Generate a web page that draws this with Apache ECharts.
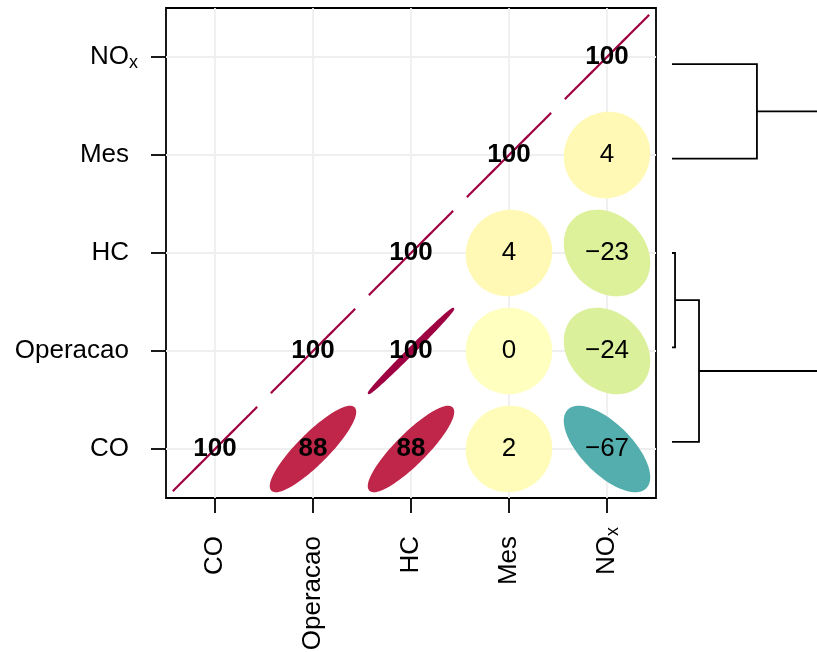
<!DOCTYPE html>
<html><head><meta charset="utf-8">
<script src="https://cdn.jsdelivr.net/npm/echarts@6/dist/echarts.min.js"></script>
<style>html,body{margin:0;padding:0;background:#fff}#c{width:817px;height:652px}</style>
</head><body><div id="c"></div>
<script>
// ---- data ----
const variables = ['CO', 'Operacao', 'HC', 'Mes', 'NOx'];
// correlation of each row variable with the variables from itself to the right
const corrCO       = [1.00, 0.88, 0.88, 0.02, -0.67];
const corrOperacao = [1.00, 0.996, 0.00, -0.24];
const corrHC       = [1.00, 0.04, -0.23];
const corrMes      = [1.00, 0.04];
const corrNOx      = [1.00];
const corrRows = [corrCO, corrOperacao, corrHC, corrMes, corrNOx];
// dendrogram (hclust-like merges: '#k' refers to merge k, 1-based)
const dendroMergeA  = ['HC', '#1', 'NOx', '#3'];
const dendroMergeB  = ['Operacao', 'CO', 'Mes', '#2'];
const dendroHeights = [0.05, 0.445, 1.4, 2.8];

// ---- helpers ----
const FONT = 'Liberation Sans, Arial, Helvetica, sans-serif';
const spectral = ['#5E4FA2','#3288BD','#66C2A5','#ABDDA4','#E6F598','#FFFFBF','#FEE08B','#FDAE61','#F46D43','#D53E4F','#9E0142'];
function hex2rgb(h){return [parseInt(h.slice(1,3),16),parseInt(h.slice(3,5),16),parseInt(h.slice(5,7),16)];}
function corrColor(r){
  const p = (r + 1) / 2 * (spectral.length - 1);
  const i = Math.min(Math.floor(p), spectral.length - 2);
  const f = p - i;
  const a = hex2rgb(spectral[i]), b = hex2rgb(spectral[i+1]);
  const c = a.map((v,k)=>Math.round(v + (b[k]-v)*f));
  return 'rgb(' + c.join(',') + ')';
}
const cells = [];
corrRows.forEach((row, i) => row.forEach((r, k) => cells.push([i + k, i, r])));

// dendrogram node positions: [height, y]
const nodeY = {}, nodeH = {};
variables.forEach((v, i) => { nodeY[v] = i; nodeH[v] = 0; });
const dendroLinks = [];
dendroHeights.forEach((h, m) => {
  const a = dendroMergeA[m], b = dendroMergeB[m];
  const ya = nodeY[a], yb = nodeY[b];
  dendroLinks.push([h, (ya + yb) / 2, nodeH[a], ya, nodeH[b], yb]);
  nodeY['#' + (m + 1)] = (ya + yb) / 2;
  nodeH['#' + (m + 1)] = h;
});

const T = 0.43;
const labelFmt = v => v === 'NOx' ? '{n|NO}{s|x}' : '{n|' + v + '}';
const labelRich = {
  n: { fontSize: 26, fontFamily: FONT, color: '#000' },
  s: { fontSize: 18, fontFamily: FONT, color: '#000', padding: [12, -9, 0, 0] }
};
const LINE_W = 1.8;

const chart = echarts.init(document.getElementById('c'), null, { renderer: 'canvas' });
chart.setOption({
  backgroundColor: '#fff',
  animation: false,
  grid: [
    { left: 166, top: 8, width: 490, height: 490, show: true, borderColor: '#000', borderWidth: LINE_W, containLabel: false, outerBoundsMode: 'none' },
    { left: 672, right: 0, top: 17, bottom: 163, show: false, containLabel: false, outerBoundsMode: 'none' }
  ],
  xAxis: [
    { type: 'category', gridIndex: 0, data: variables, boundaryGap: true,
      axisLine: { show: false },
      axisTick: { show: true, alignWithLabel: true, length: 15, inside: false, lineStyle: { color: '#000', width: LINE_W } },
      axisLabel: { show: true, rotate: 90, margin: 38, interval: 0, formatter: labelFmt, rich: labelRich },
      splitLine: { show: false } },
    { type: 'value', gridIndex: 1, min: 0, max: 2.39, show: false }
  ],
  yAxis: [
    { type: 'category', gridIndex: 0, data: variables, boundaryGap: true,
      axisLine: { show: false },
      axisTick: { show: true, alignWithLabel: true, length: 15, inside: false, lineStyle: { color: '#000', width: LINE_W } },
      axisLabel: { show: true, margin: 37, interval: 0, formatter: labelFmt, rich: labelRich },
      splitLine: { show: false } },
    { type: 'value', gridIndex: 1, min: -0.5, max: 4.5, show: false }
  ],
  series: [
    { type: 'custom', xAxisIndex: 0, yAxisIndex: 0, silent: true, z: 1,
      data: variables.map((v, i) => [i, i]),
      renderItem(params, api) {
        const cs = params.coordSys;
        const c = api.coord([api.value(0), api.value(1)]);
        const st = { stroke: '#EFEFEF', lineWidth: 1.8 };
        return { type: 'group', children: [
          { type: 'line', shape: { x1: c[0], y1: cs.y, x2: c[0], y2: cs.y + cs.height }, style: st },
          { type: 'line', shape: { x1: cs.x, y1: c[1], x2: cs.x + cs.width, y2: c[1] }, style: st }
        ]};
      } },
    { type: 'custom', xAxisIndex: 0, yAxisIndex: 0, silent: true, z: 2,
      data: cells,
      renderItem(params, api) {
        const r = api.value(2);
        const c = api.coord([api.value(0), api.value(1)]);
        const s = api.size([1, 1]);
        const d = Math.acos(Math.max(-1, Math.min(1, r)));
        const pts = [];
        for (let k = 0; k < 120; k++) {
          const a = 2 * Math.PI * k / 120;
          pts.push([c[0] + T * s[0] * Math.cos(a + d / 2), c[1] - T * s[1] * Math.cos(a - d / 2)]);
        }
        const col = corrColor(r);
        const txt = String(Math.round(r * 100)).replace('-', '\u2212');
        return { type: 'group', children: [
          { type: 'polygon', shape: { points: pts }, style: { fill: col, stroke: col, lineWidth: 2.2 } },
          { type: 'text', x: c[0], y: c[1], style: { text: txt, fontSize: 26, fontFamily: FONT, fontWeight: r > 0.5 ? 'bold' : 'normal', fill: '#000', align: 'center', verticalAlign: 'middle' } }
        ]};
      } },
    { type: 'custom', xAxisIndex: 1, yAxisIndex: 1, silent: true, clip: true,
      data: dendroLinks,
      renderItem(params, api) {
        const h = api.value(0);
        const p1 = api.coord([api.value(2), api.value(3)]);
        const t1 = api.coord([h, api.value(3)]);
        const t2 = api.coord([h, api.value(5)]);
        const p2 = api.coord([api.value(4), api.value(5)]);
        return { type: 'polyline', shape: { points: [p1, t1, t2, p2] }, style: { stroke: '#000', lineWidth: LINE_W, fill: null } };
      } }
  ]
});
</script></body></html>
